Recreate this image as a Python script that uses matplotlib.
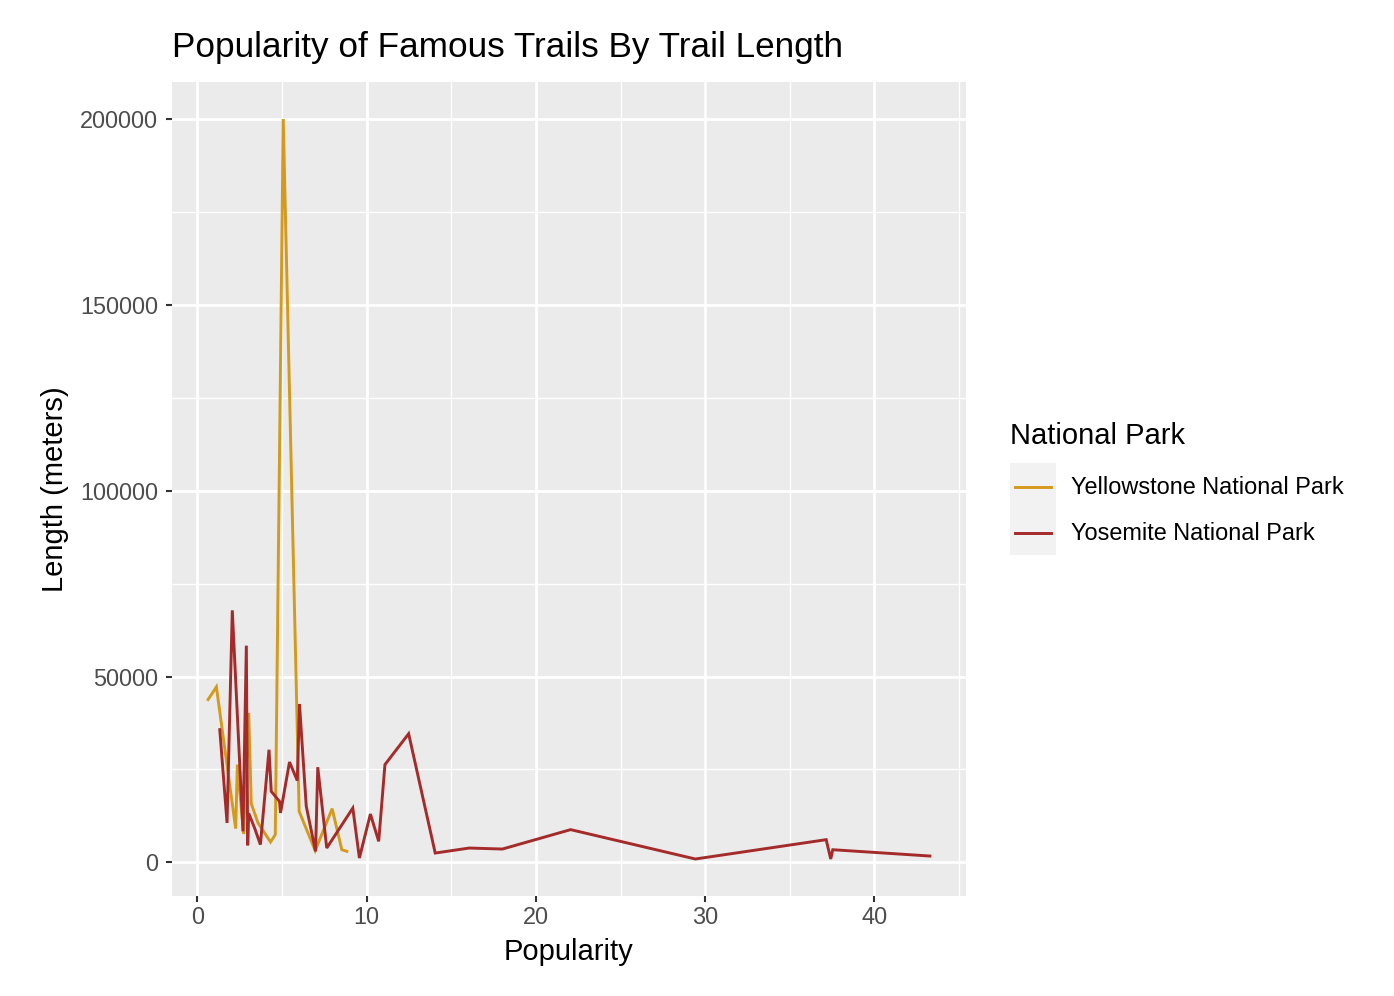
import matplotlib
matplotlib.use("Agg")
import matplotlib.pyplot as plt
from matplotlib.lines import Line2D
from matplotlib.patches import Rectangle

plt.rcParams['font.family'] = ['Liberation Sans', 'DejaVu Sans']

# Data
yell_pop = [0.63, 1.12, 2.26, 2.36, 2.73, 3.03, 3.18, 3.58, 4.32, 4.60, 5.07, 6.01, 6.96, 7.96, 8.53, 8.83]
yell_len = [43800, 47200, 9070, 26300, 7620, 40200, 15800, 10600, 5460, 7450, 200000, 13700, 3150, 14450, 3400, 2960]

yos_pop = [1.32, 1.75, 2.06, 2.69, 2.89, 2.97, 3.03, 3.38, 3.72, 4.23, 4.36, 4.85, 4.91, 5.44, 5.90, 6.03,
           6.43, 6.98, 7.11, 7.64, 9.18, 9.57, 10.22, 10.71, 11.08, 12.48, 14.05, 16.06, 18.02, 22.05,
           29.42, 37.15, 37.42, 37.54, 43.28]
yos_len = [35700, 10600, 67800, 8340, 58300, 4580, 13200, 9200, 4760, 30300, 19100, 16400, 13300, 27000, 22000, 42600,
           15100, 2960, 25600, 3850, 14600, 1160, 13000, 5650, 26300, 34600, 2500, 3850, 3580, 8800,
           900, 6100, 900, 3400, 1700]

parks = ["Yellowstone National Park", "Yosemite National Park"]
colors = ["#D49A1C", "#A52A2A"]

x_ticks = [0, 10, 20, 30, 40]
y_ticks = [0, 50000, 100000, 150000, 200000]

W, H = 1394, 996
fig = plt.figure(figsize=(W / 100, H / 100), dpi=100)

def fx(px):
    return px / W

def fy(py):
    return 1 - py / H

ax = fig.add_axes([fx(172), fy(896), fx(966) - fx(172), fy(82) - fy(896)])
ax.set_facecolor("#EBEBEB")
for s in ax.spines.values():
    s.set_visible(False)

ax.plot(yell_pop, yell_len, color=colors[0], lw=2.1, zorder=3, solid_joinstyle='miter')
ax.plot(yos_pop, yos_len, color=colors[1], lw=2.1, zorder=4, solid_joinstyle='miter')

allx = yell_pop + yos_pop
ally = yell_len + yos_len
xr = max(allx) - min(allx)
yr = max(ally) - min(ally)
ax.set_xlim(min(allx) - 0.05 * xr, max(allx) + 0.05 * xr)
ax.set_ylim(min(ally) - 0.05 * yr, max(ally) + 0.05 * yr)

ax.set_xticks(x_ticks)
ax.set_yticks(y_ticks)
ax.set_xticklabels([str(v) for v in x_ticks])
ax.set_yticklabels([str(v) for v in y_ticks])
ax.set_xticks([5, 15, 25, 35, 45], minor=True)
ax.set_yticks([25000, 75000, 125000, 175000], minor=True)
ax.grid(which='major', color='white', lw=2.0, zorder=0)
ax.grid(which='minor', color='white', lw=1.0, zorder=0)
ax.set_axisbelow(True)
ax.tick_params(which='major', length=4, width=1.5, color='#333333', labelsize=16.9,
               labelcolor='#4D4D4D')
ax.tick_params(axis='x', which='major', pad=3.5)
ax.tick_params(axis='y', which='major', pad=6)
ax.tick_params(which='minor', length=0)

ax.set_xlabel("Popularity", fontsize=21, color='black', labelpad=6)
ax.set_ylabel("Length (meters)", fontsize=21, color='black', labelpad=8)

fig.text(fx(172), fy(47), "Popularity of Famous Trails By Trail Length", fontsize=25.3,
         ha='left', va='center', color='black')

# Legend
fig.text(fx(1010), fy(436), "National Park", fontsize=21, ha='left', va='center')
fig.patches.append(Rectangle((fx(1010), fy(555)), fx(1056) - fx(1010), fy(463) - fy(555),
                             transform=fig.transFigure, facecolor='#F2F2F2', edgecolor='none'))
for i, (name, col) in enumerate(zip(parks, colors)):
    yy = 487 + i * 46
    fig.lines.append(Line2D([fx(1015), fx(1051)], [fy(yy), fy(yy)], transform=fig.transFigure,
                            color=col, lw=2.1))
    fig.text(fx(1071), fy(yy), name, fontsize=16.9, ha='left', va='center')

fig.savefig("out.png", dpi=100)
